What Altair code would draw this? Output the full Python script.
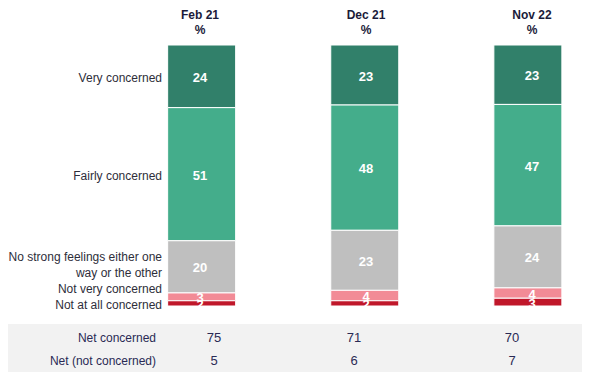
import altair as alt
import pandas as pd

waves = ["Feb 21", "Dec 21", "Nov 22"]
categories = [
    "Very concerned",
    "Fairly concerned",
    "No strong feelings either one\nway or the other",
    "Not very concerned",
    "Not at all concerned",
]
very = [24, 23, 23]
fairly = [51, 48, 47]
no_strong = [20, 23, 24]
not_very = [3, 4, 4]
not_at_all = [2, 2, 3]

net_labels = ["Net concerned", "Net (not concerned)"]
net_concerned = [75, 71, 70]
net_not = [5, 6, 7]

colors = ["#31806A", "#44AD8B", "#BFBFBF", "#F28B96", "#C0172A"]

FONT = "Liberation Sans"
W, H = 574, 335
PX = 2.61          # pixels per percentage point
LH = 16            # label line height (px)

# ---- stacked segments (normalised to 100 per wave) ----
series = [very, fairly, no_strong, not_very, not_at_all]
rows = []
for wi, w in enumerate(waves):
    vals = [s[wi] for s in series]
    total = sum(vals)
    cum = 0
    for ci, cat in enumerate(categories):
        v = vals[ci]
        start = cum / total * 100
        end = (cum + v) / total * 100
        rows.append(dict(wave=w, idx=wi, cat=cat, value=v, start=start,
                         end=end, mid=(start + end) / 2))
        cum += v
seg = pd.DataFrame(rows)

# ---- category label anchors from first wave, de-overlapped upward ----
first = seg[seg.idx == 0].reset_index(drop=True)
mids = list(first["mid"])
nlines = [c.count("\n") + 1 for c in categories]
pos = mids[:]
for i in range(len(pos) - 2, -1, -1):
    gap = (LH / PX) * (nlines[i] + nlines[i + 1]) / 2
    pos[i] = min(mids[i], pos[i + 1] - gap)
# first-line anchor for multi-line labels
top_pos = [p - (n - 1) * (LH / PX) / 2 for p, n in zip(pos, nlines)]
cat_df = pd.DataFrame({"cat": categories, "pos": top_pos})

# ---- headers ----
head_df = pd.DataFrame({"idx": list(range(len(waves))),
                        "head": [w + "\n%" for w in waves]})

# ---- net table ----
net_rows = []
for wi, w in enumerate(waves):
    net_rows.append(dict(row=net_labels[0], idx=wi, value=net_concerned[wi]))
    net_rows.append(dict(row=net_labels[1], idx=wi, value=net_not[wi]))
net_df = pd.DataFrame(net_rows)
net_lab_df = pd.DataFrame({"row": net_labels})

xdom = [-192 / 166, (W - 192) / 166]
ydom = [0, H / PX]
yscale = alt.Scale(domain=ydom, reverse=True, nice=False, zero=False)
xscale = alt.Scale(domain=xdom, nice=False, zero=False)

band = alt.Chart(pd.DataFrame({"a": [0]})).mark_rect(color="#F2F2F2").encode(
    x=alt.value(0), x2=alt.value(W), y=alt.value(279), y2=alt.value(327)
)

bars = alt.Chart(seg).mark_bar(width=68, stroke="white", strokeWidth=1).encode(
    x=alt.X("idx:Q", scale=xscale, axis=None),
    y=alt.Y("start:Q", scale=yscale, axis=None),
    y2="end:Q",
    color=alt.Color("cat:N", scale=alt.Scale(domain=categories, range=colors), legend=None),
)

headers = alt.Chart(head_df).mark_text(
    font=FONT, fontSize=12, fontWeight="bold", color="#1B1B3A", baseline="top",
    lineBreak="\n", lineHeight=15
).encode(
    x=alt.X("idx:Q", scale=xscale, axis=None),
    y=alt.value(-35),
    text="head:N",
)

bar_text = alt.Chart(seg).mark_text(
    font=FONT, fontSize=13, fontWeight="bold", color="white", baseline="middle", dy=1.5
).encode(
    x=alt.X("idx:Q", scale=xscale, axis=None),
    y=alt.Y("mid:Q", scale=yscale, axis=None),
    text="value:Q",
)

cat_text = alt.Chart(cat_df).mark_text(
    font=FONT, fontSize=12, color="#2E2E3A", align="right", baseline="middle",
    lineBreak="\n", lineHeight=LH, dy=1.5
).encode(
    x=alt.value(154),
    y=alt.Y("pos:Q", scale=yscale, axis=None),
    text="cat:N",
)

net_y = alt.Y("row:N", sort=net_labels,
              scale=alt.Scale(type="point", range=[292, 315], padding=0), axis=None)

net_vals = alt.Chart(net_df).mark_text(
    font=FONT, fontSize=13, color="#2A2A55", baseline="middle", dy=1
).encode(
    x=alt.X("idx:Q", scale=alt.Scale(domain=[0, 1, 2], range=[206, 346, 504],
                                      nice=False, zero=False), axis=None),
    y=net_y,
    text="value:Q",
)

net_lab = alt.Chart(net_lab_df).mark_text(
    font=FONT, fontSize=12, color="#2A2A55", align="right", baseline="middle", dy=1
).encode(
    x=alt.value(148),
    y=net_y,
    text="row:N",
)

chart = alt.layer(band, bars, headers, bar_text, cat_text, net_vals, net_lab).resolve_scale(
    x="independent", y="independent", color="independent"
).properties(
    width=W, height=H,
    autosize=alt.AutoSizeParams(type="none"),
    padding={"left": 0, "top": 37, "right": 10, "bottom": 2},
).configure_view(stroke=None)

chart.save("out.html", embed_options={"renderer": "svg", "actions": False})
